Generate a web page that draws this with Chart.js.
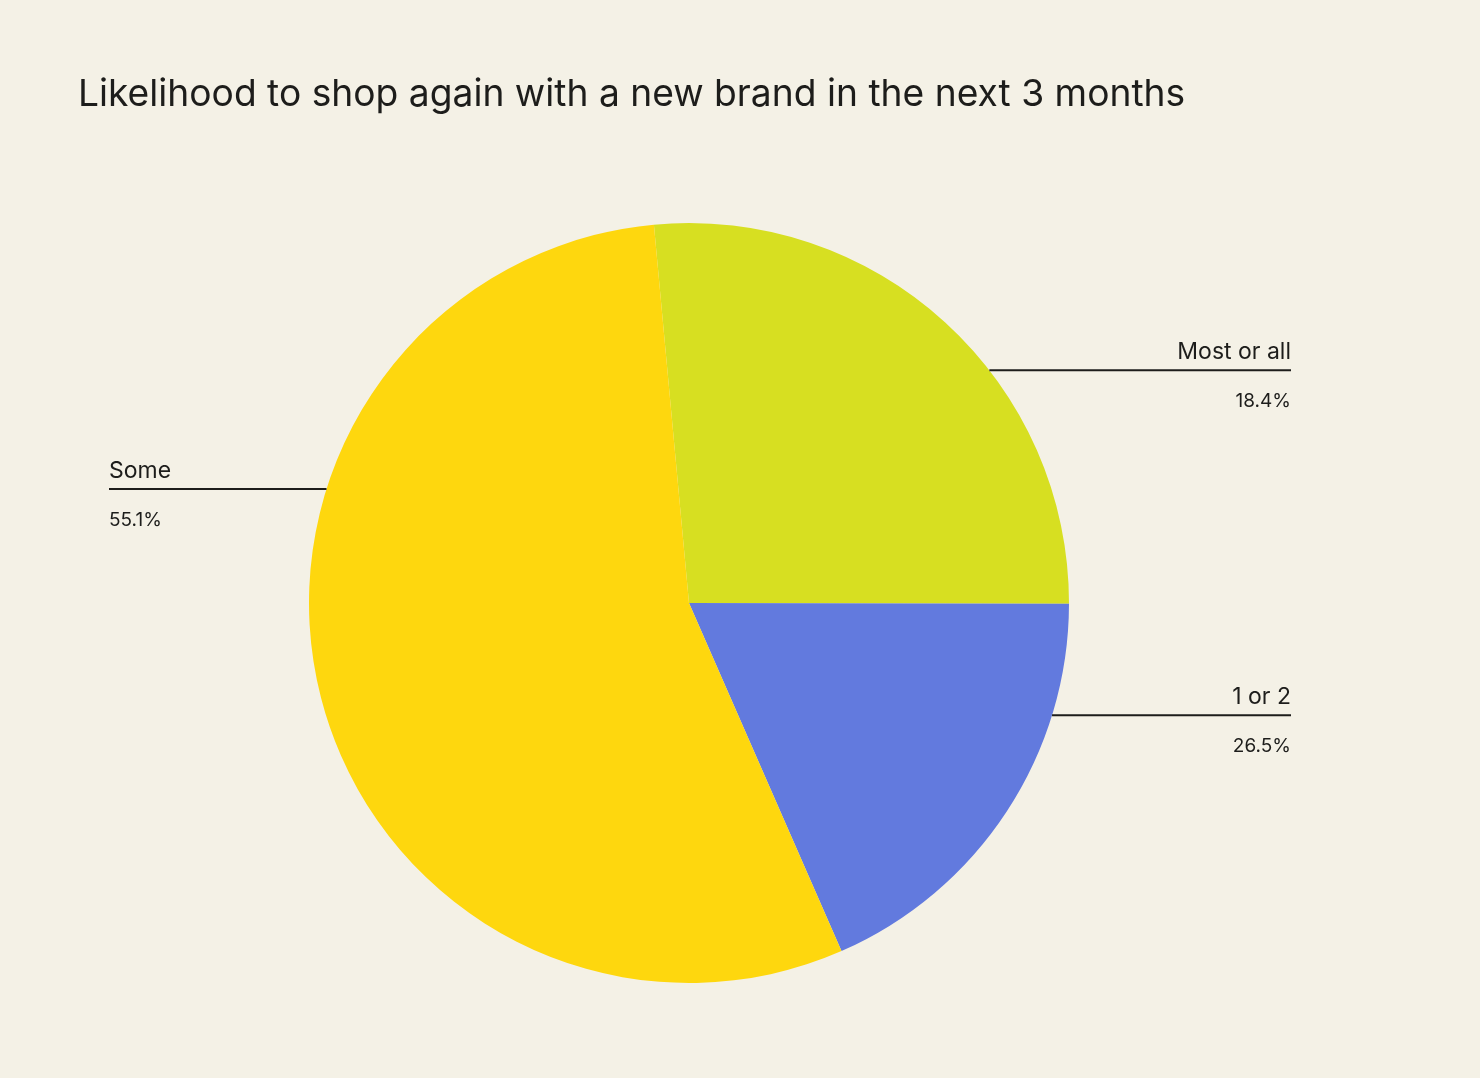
<!DOCTYPE html>
<html>
<head>
<meta charset="utf-8">
<script src="https://cdn.jsdelivr.net/npm/chart.js@4/dist/chart.umd.min.js"></script>
<style>
  html, body { margin: 0; padding: 0; background: #F4F1E6; }
  #wrap { width: 1480px; height: 1078px; position: relative; }
</style>
</head>
<body>
<div id="wrap"><canvas id="myChart"></canvas></div>
<script>
// slices in the order they are drawn (clockwise from just left of 12 o'clock)
const categories = ['Most or all', '1 or 2', 'Some'];
const shares = [26.5, 18.4, 55.1];
// percentages as printed beside each slice in the source chart
const shownPct = ['18.4%', '26.5%', '55.1%'];
const sliceColors = ['#D7DF21', '#627ADE', '#FED70E'];

const FONT = 'Inter, "Noto Sans", sans-serif';

// leader lines + two-line labels, anchored on each arc
const sliceLabels = {
  id: 'sliceLabels',
  afterDatasetsDraw(chart, args, opts) {
    const ctx = chart.ctx;
    const arcs = chart.getDatasetMeta(0).data;
    ctx.save();
    arcs.forEach((arc, i) => {
      const p = arc.getProps(['x', 'y', 'startAngle', 'endAngle', 'outerRadius'], true);
      const a = p.startAngle + opts.anchor[i] * (p.endAngle - p.startAngle);
      const px = p.x + Math.cos(a) * p.outerRadius;
      const py = p.y + Math.sin(a) * p.outerRadius;
      const right = Math.cos(a) >= 0;
      const ex = right ? opts.rightX : opts.leftX;

      ctx.strokeStyle = '#1d1d1b';
      ctx.lineWidth = 2;
      ctx.beginPath();
      ctx.moveTo(px, py);
      ctx.lineTo(ex, py);
      ctx.stroke();

      ctx.fillStyle = '#1d1d1b';
      ctx.textAlign = right ? 'right' : 'left';
      ctx.textBaseline = 'alphabetic';
      ctx.font = '23px ' + FONT;
      ctx.fillText(categories[i], ex, py - 11);
      ctx.font = '19px ' + FONT;
      ctx.fillText(shownPct[i], ex, py + 37);
    });
    ctx.restore();
  }
};

const data = {
  labels: categories,
  datasets: [{
    data: shares,
    backgroundColor: sliceColors,
    borderWidth: 0,
    hoverOffset: 0,
  }],
};

const config = {
  type: 'pie',
  data: data,
  options: {
    responsive: true,
    maintainAspectRatio: false,
    animation: false,
    rotation: -5.3,
    radius: 380,
    layout: { padding: { left: 78, right: 180, top: 0, bottom: 0 } },
    plugins: {
      legend: { display: false },
      tooltip: { enabled: false },
      title: {
        display: true,
        text: 'Likelihood to shop again with a new brand in the next 3 months',
        align: 'start',
        color: '#1d1d1b',
        font: { family: FONT, size: 37.2, weight: 'normal', lineHeight: 1.2 },
        padding: { top: 73, bottom: 10.4 },
      },
      sliceLabels: {
        anchor: [0.603, 0.258, 0.661],
        rightX: 1291,
        leftX: 109,
      },
    },
  },
  plugins: [sliceLabels],
};

const myChart = new Chart(document.getElementById('myChart').getContext('2d'), config);
</script>
</body>
</html>
